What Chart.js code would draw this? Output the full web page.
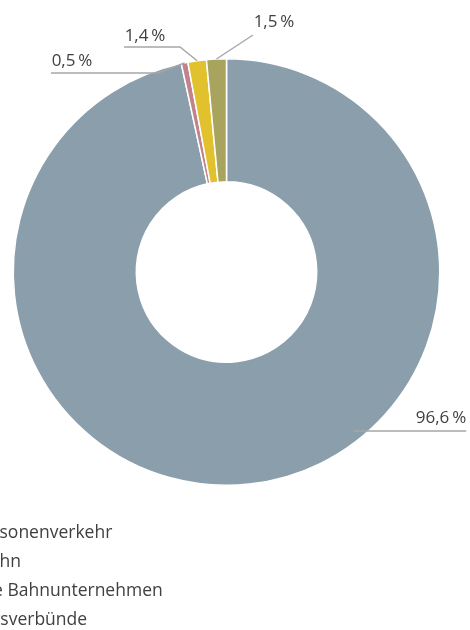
<!DOCTYPE html>
<html>
<head>
<meta charset="utf-8">
<script src="https://cdn.jsdelivr.net/npm/chart.js@4"></script>
<style>
  html, body { margin: 0; padding: 0; background: #fff; overflow: hidden; }
  #wrap { position: relative; width: 470px; height: 630px; }
</style>
</head>
<body>
<div id="wrap"><canvas id="c" width="470" height="630"></canvas></div>
<script>
// Anteile nach Verkehrsbereich
const categories = ['Bus-Personenverkehr', 'Eisenbahn', 'Kleinere Bahnunternehmen', 'Verkehrsverbünde'];
const shares = [96.6, 0.5, 1.4, 1.5];
const sliceColors = ['#8a9eab', '#c0838b', '#e2c12f', '#a8a45e'];

const FONT = '"Open Sans", sans-serif';
const TEXT = '#404040';
const LEADER = '#a6a6a6';

const fmt = v => v.toFixed(1).replace('.', ',') + '\u2009%';

// where each value label sits and how its leader line bends
const labelPlacement = [
  { x: 441, y: 418, lineY: 431, kind: 'under' },
  { x: 72,  y: 61,  lineY: 73, from: 51,  elbow: 158, kind: 'elbow' },
  { x: 145, y: 36,  lineY: 47, from: 124, elbow: 180, kind: 'elbow' },
  { x: 274, y: 22,  lineY: 35, from: 253, kind: 'direct' }
];

const valueLabels = {
  id: 'valueLabels',
  afterDatasetsDraw(chart) {
    const ctx = chart.ctx;
    const arcs = chart.getDatasetMeta(0).data;
    ctx.save();
    ctx.font = '17px ' + FONT;
    ctx.textBaseline = 'middle';
    ctx.textAlign = 'center';
    arcs.forEach((arc, i) => {
      const p = labelPlacement[i];
      const { x, y, startAngle, endAngle, outerRadius } = arc.getProps(['x', 'y', 'startAngle', 'endAngle', 'outerRadius'], true);
      const mid = (startAngle + endAngle) / 2;
      const ax = x + Math.cos(mid) * outerRadius;
      const ay = y + Math.sin(mid) * outerRadius;
      const text = fmt(shares[i]);
      const w = ctx.measureText(text).width;
      ctx.strokeStyle = LEADER;
      ctx.lineWidth = 1.4;
      ctx.beginPath();
      if (p.kind === 'under') {
        const r = outerRadius * 0.955;
        const dy = p.lineY - y;
        const sx = x + Math.sqrt(Math.max(r * r - dy * dy, 0));
        ctx.moveTo(sx, p.lineY);
        ctx.lineTo(p.x + w / 2, p.lineY);
      } else if (p.kind === 'elbow') {
        ctx.moveTo(p.from, p.lineY);
        ctx.lineTo(p.elbow, p.lineY);
        ctx.lineTo(ax, ay);
      } else {
        ctx.moveTo(p.from, p.lineY);
        ctx.lineTo(ax, ay);
      }
      ctx.stroke();
      ctx.fillStyle = TEXT;
      ctx.fillText(text, p.x, p.y);
    });
    ctx.restore();
  }
};

// vertical legend at the bottom left
const legendBlock = {
  id: 'legendBlock',
  afterDraw(chart) {
    const ctx = chart.ctx;
    const left = -64, top = 533, step = 29;
    ctx.save();
    ctx.font = '17.5px ' + FONT;
    ctx.textBaseline = 'middle';
    ctx.textAlign = 'left';
    categories.forEach((name, i) => {
      const yy = top + i * step;
      ctx.fillStyle = sliceColors[i];
      ctx.fillRect(left - 20, yy - 6, 12, 12);
      ctx.fillStyle = TEXT;
      ctx.fillText(name, left, yy);
    });
    ctx.restore();
  }
};

function build() {
  new Chart(document.getElementById('c'), {
    type: 'doughnut',
    data: {
      labels: categories,
      datasets: [{
        data: shares,
        backgroundColor: sliceColors,
        borderColor: '#ffffff',
        borderWidth: 1.5
      }]
    },
    options: {
      responsive: false,
      animation: false,
      cutout: '42.3%',
      layout: { padding: { left: 12.5, right: 29.5, top: 58, bottom: 144 } },
      plugins: {
        legend: { display: false },
        tooltip: { enabled: false }
      }
    },
    plugins: [valueLabels, legendBlock]
  });
}

Promise.all([
  document.fonts.load('17px "Open Sans"'),
  document.fonts.load('17.5px "Open Sans"')
]).then(build, build);
</script>
</body>
</html>
